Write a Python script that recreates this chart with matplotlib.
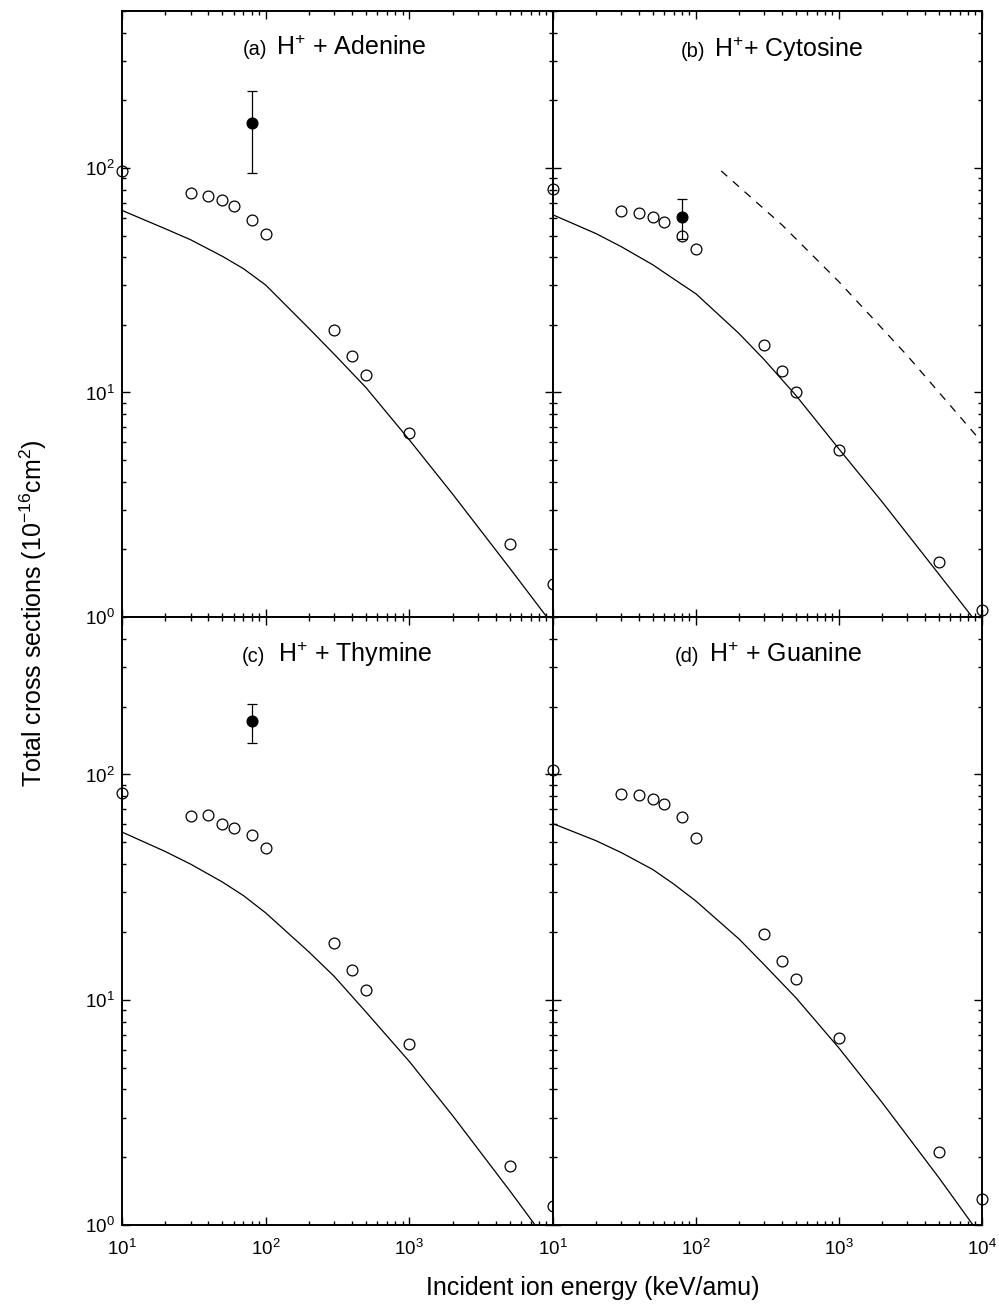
import matplotlib
matplotlib.use('Agg')
import matplotlib.pyplot as plt
from matplotlib.ticker import LogLocator, NullFormatter, FixedLocator, FixedFormatter

plt.rcParams['font.family'] = ['Liberation Sans', 'DejaVu Sans']
plt.rcParams['mathtext.fontset'] = 'custom'
plt.rcParams['mathtext.rm'] = 'Liberation Sans'
plt.rcParams['mathtext.it'] = 'Liberation Sans:italic'
plt.rcParams['mathtext.bf'] = 'Liberation Sans:bold'
plt.rcParams['mathtext.sf'] = 'Liberation Sans'

# ---------------- data ----------------
energy_exp = [10, 30, 40, 50, 60, 80, 100, 300, 400, 500, 1000, 5000, 10000]
adenine_exp = [96.6, 77.6, 75.2, 72.0, 67.6, 58.7, 50.7, 19.0, 14.6, 12.0, 6.58, 2.12, 1.40]
cytosine_exp = [80.7, 64.4, 63.1, 60.5, 57.7, 50.0, 43.4, 16.2, 12.5, 10.0, 5.52, 1.75, 1.07]
thymine_exp = [82.4, 65.5, 66.4, 60.4, 57.7, 53.6, 47.2, 17.9, 13.5, 11.0, 6.36, 1.83, 1.22]
guanine_exp = [105.0, 82.0, 80.7, 78.2, 74.3, 64.6, 52.0, 19.6, 14.8, 12.3, 6.76, 2.10, 1.31]

energy_theory = [10, 20, 30, 50, 70, 100, 200, 300, 500, 1000, 2000, 5000, 10000]
adenine_theory = [64.7, 53.6, 47.9, 40.4, 35.6, 30.1, 19.3, 14.8, 10.5, 6.15, 3.53, 1.65, 0.92]
cytosine_theory = [61.8, 51.0, 44.6, 37.0, 32.0, 27.5, 18.3, 14.0, 9.7, 5.6, 3.26, 1.55, 0.88]
thymine_theory = [55.5, 45.5, 40.0, 33.3, 29.0, 24.3, 16.3, 12.7, 8.81, 5.32, 3.06, 1.42, 0.78]
guanine_theory = [60.5, 50.8, 45.0, 37.8, 32.6, 27.4, 18.6, 14.3, 10.2, 6.1, 3.50, 1.62, 0.88]

# single measurements with error bars (filled circles)
single_energy = [80]
adenine_single = [158.0]
adenine_single_err = [63.0]
cytosine_single = [60.5]
cytosine_single_err = [12.3]
thymine_single = [172.0]
thymine_single_err = [34.0]

# dashed curve in panel (b)
cytosine_dash_energy = [150, 400, 1000, 3000, 10000]
cytosine_dash_sigma = [97.0, 55.7, 31.1, 14.6, 6.0]

panel_tags = ['(a)', '(b)', '(c)', '(d)']
panel_names = [r'H$^{+}$ + Adenine', r'H$^{+}$+ Cytosine', r'H$^{+}$ + Thymine', r'H$^{+}$ + Guanine']

x_major = [10, 100, 1000, 10000]
x_major_labels = [r'$10^{1}$', r'$10^{2}$', r'$10^{3}$', r'$10^{4}$']
y_major = [1, 10, 100]
y_major_labels = [r'$10^{0}$', r'$10^{1}$', r'$10^{2}$']

xlim = (10, 10000)
ylim = (1, 500)

# ---------------- figure ----------------
fig = plt.figure(figsize=(9.99, 13.05), dpi=100)
W, H = 999.0, 1305.0
xl, xm, xr = 122, 553, 982
yt, ym, yb = 11, 617, 1225

def rect(x0, x1, y0, y1):
    return [x0 / W, 1 - y1 / H, (x1 - x0) / W, (y1 - y0) / H]

ax_a = fig.add_axes(rect(xl, xm, yt, ym))
ax_b = fig.add_axes(rect(xm, xr, yt, ym))
ax_c = fig.add_axes(rect(xl, xm, ym, yb))
ax_d = fig.add_axes(rect(xm, xr, ym, yb))
axes = [ax_a, ax_b, ax_c, ax_d]

exp_sets = [adenine_exp, cytosine_exp, thymine_exp, guanine_exp]
theory_sets = [adenine_theory, cytosine_theory, thymine_theory, guanine_theory]
singles = [(adenine_single, adenine_single_err), (cytosine_single, cytosine_single_err),
           (thymine_single, thymine_single_err), None]

tag_pos = [(0.3364, 0.3573, 0.927), (0.354, 0.375, 0.9246),
           (0.332, 0.362, 0.9265), (0.340, 0.364, 0.9265)]

for i, ax in enumerate(axes):
    ax.set_xscale('log')
    ax.set_yscale('log')
    ax.set_xlim(*xlim)
    ax.set_ylim(*ylim)

    ax.plot(energy_theory, theory_sets[i], color='black', lw=0.9, zorder=2)
    ax.plot(energy_exp, exp_sets[i], linestyle='none', marker='o', mfc='none',
            mec='black', ms=7.8, mew=0.9, clip_on=False, zorder=3)
    if singles[i] is not None:
        vals, errs = singles[i]
        ax.errorbar(single_energy, vals, yerr=errs, fmt='o', color='black',
                    ms=7.8, mew=0.9, elinewidth=0.9, capsize=3.8, capthick=0.9, zorder=4)
    if i == 1:
        ln, = ax.plot(cytosine_dash_energy, cytosine_dash_sigma, color='black', lw=0.9)
        ln.set_dashes((6.5, 6.0))

    t1, t2, ty = tag_pos[i]
    ax.text(t1, ty, panel_tags[i], transform=ax.transAxes, ha='right', va='baseline', fontsize=14.5)
    ax.text(t2, ty, panel_names[i], transform=ax.transAxes, ha='left', va='baseline', fontsize=18)

    ax.xaxis.set_major_locator(FixedLocator(x_major))
    ax.yaxis.set_major_locator(FixedLocator(y_major))
    ax.xaxis.set_minor_locator(LogLocator(base=10, subs=range(2, 10), numticks=20))
    ax.yaxis.set_minor_locator(LogLocator(base=10, subs=range(2, 10), numticks=20))
    ax.xaxis.set_minor_formatter(NullFormatter())
    ax.yaxis.set_minor_formatter(NullFormatter())

    if i in (2, 3):
        labs = list(x_major_labels)
        if i == 2:
            labs[-1] = ''
        ax.xaxis.set_major_formatter(FixedFormatter(labs))
    else:
        ax.xaxis.set_major_formatter(NullFormatter())
    if i in (0, 2):
        ax.yaxis.set_major_formatter(FixedFormatter(y_major_labels))
    else:
        ax.yaxis.set_major_formatter(NullFormatter())

    ax.tick_params(which='both', direction='in', top=True, right=True, width=1.0,
                   colors='black', labelsize=13.5)
    ax.tick_params(which='major', length=5.8)
    ax.tick_params(which='minor', length=3.0)
    ax.tick_params(axis='x', which='major', pad=10)
    ax.tick_params(axis='y', which='major', pad=5)
    for s in ax.spines.values():
        s.set_linewidth(1.4)

fig.text(33 / W, 1 - 613 / H, r'Total cross sections (10$^{-16}$cm$^{2}$)', rotation=90,
         ha='center', va='center', fontsize=18)
fig.text(593 / W, 1 - 1295 / H, 'Incident ion energy (keV/amu)', ha='center', va='baseline',
         fontsize=18)

fig.savefig('out.png', dpi=100)
